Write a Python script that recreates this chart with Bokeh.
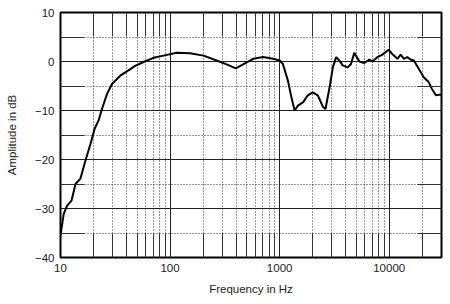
from bokeh.plotting import figure
from bokeh.models import (LogAxis, LinearAxis, FixedTicker, Range1d)
from bokeh.embed import file_html
from bokeh.resources import INLINE

freq_hz = [10, 10.7, 11.5, 12.6, 13.7, 15.2, 16.9, 18.8, 20.5, 22.3, 23.9, 26.6,
           29.5, 35.1, 41.7, 48, 57.3, 70.7, 87, 115, 152, 202, 266, 328, 398,
           464, 573, 707, 870, 1000, 1070, 1190, 1280, 1370, 1470, 1640, 1810,
           2000, 2230, 2490, 2620, 2860, 3060, 3280, 3510, 3760, 4180, 4480,
           4800, 5340, 5920, 6580, 7040, 7820, 8670, 9880, 10590, 11880, 12720,
           13630, 14600, 15650, 16770, 18600, 20650, 22900, 24550, 26700, 28400,
           30000]
amplitude_db = [-35.5, -31.1, -29.4, -28.4, -25.0, -23.9, -20.2, -16.8, -13.7,
                -12.0, -9.7, -6.6, -4.6, -2.9, -1.8, -0.9, -0.1, 0.75, 1.2, 1.8,
                1.7, 1.2, 0.2, -0.6, -1.4, -0.6, 0.55, 0.9, 0.55, 0.2, -0.5, -3.9,
                -7.3, -10.0, -9.0, -8.3, -6.9, -6.3, -6.9, -9.3, -9.7, -5.2, -1.2,
                0.9, 0.2, -0.8, -1.2, -0.5, 1.8, 0.0, -0.3, 0.4, 0.0, 0.9, 1.4,
                2.4, 1.6, 0.55, 1.4, 0.55, 0.9, 0.4, 0.2, -1.5, -3.2, -4.2, -5.6,
                -6.9, -6.8, -6.8]

x_ticks = [10, 100, 1000, 10000]
x_tick_labels = ["10", "100", "1000", "10000"]
y_ticks = [-40, -30, -20, -10, 0, 10]
y_minor = [-35, -25, -15, -5, 5]
x_minor = [k * 10 ** d for d in range(1, 5) for k in range(2, 10) if k * 10 ** d < 30000]

FONT = "Liberation Sans"
TXT = "#222222"

p = figure(width=450, height=304, x_axis_type="log",
           x_range=Range1d(10, 30000), y_range=Range1d(-40, 10),
           output_backend="svg", toolbar_location=None,
           min_border_left=60, min_border_right=9, min_border_top=12,
           min_border_bottom=47)

p.outline_line_color = "black"
p.outline_line_width = 2
p.background_fill_color = "white"
p.border_fill_color = "white"

xt = FixedTicker(ticks=x_ticks, minor_ticks=x_minor)
yt = FixedTicker(ticks=y_ticks, minor_ticks=y_minor)

p.xaxis.ticker = xt
p.yaxis.ticker = yt
p.xaxis.major_label_overrides = {t: l for t, l in zip(x_ticks, x_tick_labels)}

for ax in (p.xaxis[0], p.yaxis[0]):
    ax.axis_line_color = None
    ax.major_tick_in = 0
    ax.major_tick_out = 0
    ax.minor_tick_out = 0
    ax.minor_tick_in = 24
    ax.minor_tick_line_color = "#333333"
    ax.minor_tick_line_width = 1
    ax.major_label_text_font = FONT
    ax.major_label_text_font_size = "11.5px"
    ax.major_label_text_color = TXT
    ax.axis_label_text_font = FONT
    ax.axis_label_text_font_size = "11.5px"
    ax.axis_label_text_font_style = "normal"
    ax.axis_label_text_color = TXT

p.xaxis.axis_label = "Frequency in Hz"
p.yaxis.axis_label = "Amplitude in dB"
p.xaxis.major_label_standoff = 6
p.xaxis.axis_label_standoff = 8
p.yaxis.major_label_standoff = 6
p.yaxis.axis_label_standoff = 14

top = LogAxis(ticker=FixedTicker(ticks=x_ticks, minor_ticks=x_minor))
right = LinearAxis(ticker=FixedTicker(ticks=y_ticks, minor_ticks=y_minor))
for ax in (top, right):
    ax.axis_line_color = None
    ax.major_tick_in = 0
    ax.major_tick_out = 0
    ax.minor_tick_out = 0
    ax.minor_tick_in = 24
    ax.minor_tick_line_color = "#333333"
    ax.major_label_text_font_size = "1px"
    ax.major_label_text_alpha = 0
    ax.major_label_standoff = 0
p.add_layout(top, "above")
p.add_layout(right, "right")

p.xgrid.ticker = xt
p.ygrid.ticker = yt
for g in (p.xgrid[0], p.ygrid[0]):
    g.grid_line_color = "#222222"
    g.grid_line_width = 1
    g.grid_line_alpha = 1
    g.minor_grid_line_color = "#333333"
    g.minor_grid_line_dash = "1 2"
    g.minor_grid_line_width = 1

p.line(freq_hz, amplitude_db, line_color="black", line_width=2)

open("out.html", "w").write(file_html(p, INLINE))
